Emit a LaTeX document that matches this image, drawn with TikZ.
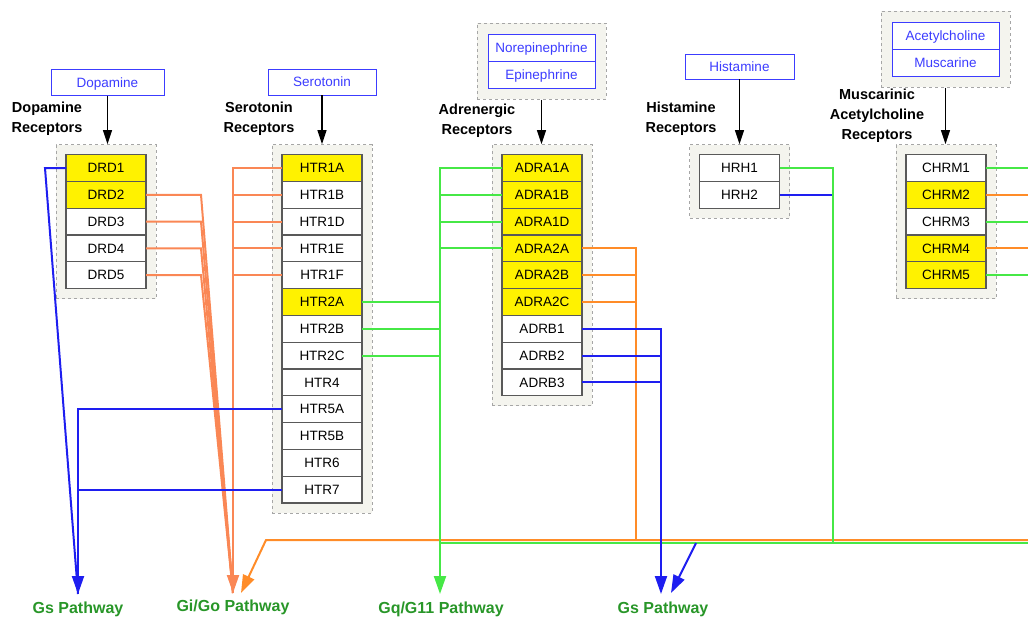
\documentclass[tikz,border=0pt]{standalone}
\usepackage{fontspec}
\setmainfont{Liberation Sans}
\usetikzlibrary{positioning,fit,arrows.meta,backgrounds}

\definecolor{giorange}{RGB}{250,135,85}
\definecolor{adorange}{RGB}{255,140,40}
\definecolor{gqgreen}{RGB}{70,232,70}
\definecolor{gsblue}{RGB}{30,30,240}
\definecolor{pathgreen}{RGB}{40,150,40}
\definecolor{ligblue}{RGB}{60,60,255}
\definecolor{grpfill}{RGB}{244,244,238}

\tikzset{
  rec/.style={draw=black!65, line width=1.1pt, fill=white, minimum width=80pt,
    minimum height=26.8pt, inner sep=0pt, outer sep=0pt,
    text height=9.5pt, text depth=0pt,
    font=\fontsize{13.5}{15}\selectfont},
  hl/.style={rec, fill=yellow},
  lig/.style={draw=ligblue, line width=1pt, fill=white, text=ligblue,
    minimum height=26pt, inner sep=0pt, outer sep=0pt,
    text height=9.5pt, text depth=0pt,
    font=\fontsize{13.5}{15}\selectfont},
  grp/.style={draw=black!35, dashed, line width=1pt, fill=grpfill, inner sep=10pt},
  ttl/.style={align=center, font=\bfseries\fontsize{14.5}{20}\selectfont},
  pwlbl/.style={text=pathgreen, font=\bfseries\fontsize{16}{18}\selectfont},
  feed/.style={-{Triangle[length=14pt,width=9pt]}, line width=1.2pt},
  big/.style={-{Triangle[length=18pt,width=12pt]}},
  gio/.style={giorange, line width=2pt},
  ado/.style={adorange, line width=2pt},
  gq/.style={gqgreen, line width=2pt},
  gs/.style={gsblue, line width=2pt}
}

\begin{document}
\begin{tikzpicture}[x=1pt, y=-1pt]
\useasboundingbox (0,0) rectangle (1028,619);

% ligands
\node[lig, minimum width=113pt] (dop) at (107.5,82.5) {Dopamine};
\node[lig, minimum width=108pt] (ser) at (322,82) {Serotonin};
\node[lig, minimum width=107pt, minimum height=27pt] (nor) at (541.5,47.5) {Norepinephrine};
\node[lig, minimum width=107pt, minimum height=27pt, below=0pt of nor] (epi) {Epinephrine};
\node[lig, minimum width=109pt, minimum height=25pt] (his) at (739.5,66.5) {Histamine};
\node[lig, minimum width=107pt, minimum height=27pt] (ach) at (945.5,35.5) {Acetylcholine};
\node[lig, minimum width=107pt, minimum height=27pt, below=0pt of ach] (mus) {Muscarine};

% dopamine receptors
\node[hl] (drd1) at (106,168) {DRD1};
\node[hl, below=0pt of drd1] (drd2) {DRD2};
\node[rec, below=0pt of drd2] (drd3) {DRD3};
\node[rec, below=0pt of drd3] (drd4) {DRD4};
\node[rec, below=0pt of drd4] (drd5) {DRD5};

% serotonin receptors
\node[hl] (htr1a) at (322,168) {HTR1A};
\node[rec, below=0pt of htr1a] (htr1b) {HTR1B};
\node[rec, below=0pt of htr1b] (htr1d) {HTR1D};
\node[rec, below=0pt of htr1d] (htr1e) {HTR1E};
\node[rec, below=0pt of htr1e] (htr1f) {HTR1F};
\node[hl, below=0pt of htr1f] (htr2a) {HTR2A};
\node[rec, below=0pt of htr2a] (htr2b) {HTR2B};
\node[rec, below=0pt of htr2b] (htr2c) {HTR2C};
\node[rec, below=0pt of htr2c] (htr4) {HTR4};
\node[rec, below=0pt of htr4] (htr5a) {HTR5A};
\node[rec, below=0pt of htr5a] (htr5b) {HTR5B};
\node[rec, below=0pt of htr5b] (htr6) {HTR6};
\node[rec, below=0pt of htr6] (htr7) {HTR7};

% adrenergic receptors
\node[hl] (adra1a) at (542,168) {ADRA1A};
\node[hl, below=0pt of adra1a] (adra1b) {ADRA1B};
\node[hl, below=0pt of adra1b] (adra1d) {ADRA1D};
\node[hl, below=0pt of adra1d] (adra2a) {ADRA2A};
\node[hl, below=0pt of adra2a] (adra2b) {ADRA2B};
\node[hl, below=0pt of adra2b] (adra2c) {ADRA2C};
\node[rec, below=0pt of adra2c] (adrb1) {ADRB1};
\node[rec, below=0pt of adrb1] (adrb2) {ADRB2};
\node[rec, below=0pt of adrb2] (adrb3) {ADRB3};

% histamine receptors
\node[rec] (hrh1) at (739.5,168) {HRH1};
\node[rec, below=0pt of hrh1] (hrh2) {HRH2};

% muscarinic receptors
\node[rec] (chrm1) at (946,168) {CHRM1};
\node[hl, below=0pt of chrm1] (chrm2) {CHRM2};
\node[rec, below=0pt of chrm2] (chrm3) {CHRM3};
\node[hl, below=0pt of chrm3] (chrm4) {CHRM4};
\node[hl, below=0pt of chrm4] (chrm5) {CHRM5};

\begin{scope}[on background layer]
\node[grp, fit=(drd1)(drd5)] (dgrp) {};
\node[grp, fit=(htr1a)(htr7)] (sgrp) {};
\node[grp, fit=(adra1a)(adrb3)] (agrp) {};
\node[grp, fit=(hrh1)(hrh2)] (hgrp) {};
\node[grp, fit=(chrm1)(chrm5)] (mgrp) {};
\node[grp, inner sep=11pt, fit=(nor)(epi)] (negrp) {};
\node[grp, inner sep=11pt, fit=(ach)(mus)] (amgrp) {};
\end{scope}

\node[ttl] (dtl) at (47,119) {Dopamine\\Receptors};
\node[ttl] (stl) at (259,119) {Serotonin\\Receptors};
\node[ttl] (atl) at (477,121) {Adrenergic\\Receptors};
\node[ttl] (htl) at (681,119) {Histamine\\Receptors};
\node[ttl] (mtl) at (877,116) {Muscarinic\\Acetylcholine\\Receptors};

\draw[feed] (dop.south) -- (dop.south |- dgrp.north);
\draw[feed] (ser.south) -- (ser.south |- sgrp.north);
\draw[feed] (negrp.south) -- (negrp.south |- agrp.north);
\draw[feed] (his.south) -- (his.south |- hgrp.north);
\draw[feed] (amgrp.south) -- (amgrp.south |- mgrp.north);

% pathways
\node[pwlbl] (gsl) at (78,609) {Gs Pathway};
\node[pwlbl] (gil) at (233,607) {Gi/Go Pathway};
\node[pwlbl] (gql) at (441,609) {Gq/G11 Pathway};
\node[pwlbl] (gsr) at (663,609) {Gs Pathway};

\coordinate (gstip) at (78,594);
\coordinate (gitip) at (233,593);
\coordinate (gitip2) at (241,593);
\coordinate (gibend) at (266,540);
\coordinate (gqtip) at (440,594);
\coordinate (gsrtip) at (661,594);
\coordinate (gsrtip2) at (671,593);
\coordinate (gsbend) at (696,543);
\coordinate (orj) at (636,540);
\coordinate (gqj) at (440,543);
\coordinate (hj) at (833,543);
\coordinate (rim) at (1028,0);

% Gi/Go
\draw[gio] (drd2.east) -- ++(55,0) -- (gitip);
\draw[gio] (drd3.east) -- ++(55,0) -- (gitip);
\draw[gio] (drd4.east) -- ++(55,0) -- (gitip);
\draw[gio] (drd5.east) -- ++(55,0) -- (gitip);
\draw[gio] (htr1b.west) -- (htr1b.west -| gitip);
\draw[gio] (htr1d.west) -- (htr1d.west -| gitip);
\draw[gio] (htr1e.west) -- (htr1e.west -| gitip);
\draw[gio] (htr1f.west) -- (htr1f.west -| gitip);
\draw[gio, big] (htr1a.west) -| (gitip);

\draw[ado] (adra2b.east) -- (adra2b.east -| orj);
\draw[ado] (adra2c.east) -- (adra2c.east -| orj);
\draw[ado] (adra2a.east) -| (orj);
\draw[ado] (chrm2.east) -- (chrm2.east -| rim);
\draw[ado] (chrm4.east) -- (chrm4.east -| rim);
\draw[ado, big] (orj -| rim) -- (gibend) -- (gitip2);

% Gq/G11
\draw[gq] (adra1b.west) -- (adra1b.west -| gqtip);
\draw[gq] (adra1d.west) -- (adra1d.west -| gqtip);
\draw[gq] (adra2a.west) -- (adra2a.west -| gqtip);
\draw[gq] (htr2a.east) -- (htr2a.east -| gqtip);
\draw[gq] (htr2b.east) -- (htr2b.east -| gqtip);
\draw[gq] (htr2c.east) -- (htr2c.east -| gqtip);
\draw[gq, big] (adra1a.west) -| (gqtip);
\draw[gs] (hrh2.east) -- (hrh2.east -| hj);
\draw[gq] (gqj) -- (gqj -| rim);
\draw[gq] (hrh1.east) -| (hj);
\draw[gq] (chrm1.east) -- (chrm1.east -| rim);
\draw[gq] (chrm3.east) -- (chrm3.east -| rim);
\draw[gq] (chrm5.east) -- (chrm5.east -| rim);

% Gs
\draw[gs] (drd1.west) -- ++(-21,0) -- (gstip);
\draw[gs] (htr7.west) -- (htr7.west -| gstip);
\draw[gs, big] (htr5a.west) -| (gstip);
\draw[gs] (adrb2.east) -- (adrb2.east -| gsrtip);
\draw[gs] (adrb3.east) -- (adrb3.east -| gsrtip);
\draw[gs, big] (adrb1.east) -| (gsrtip);
\draw[gs, big] (gsbend) -- (gsrtip2);

\end{tikzpicture}
\end{document}
